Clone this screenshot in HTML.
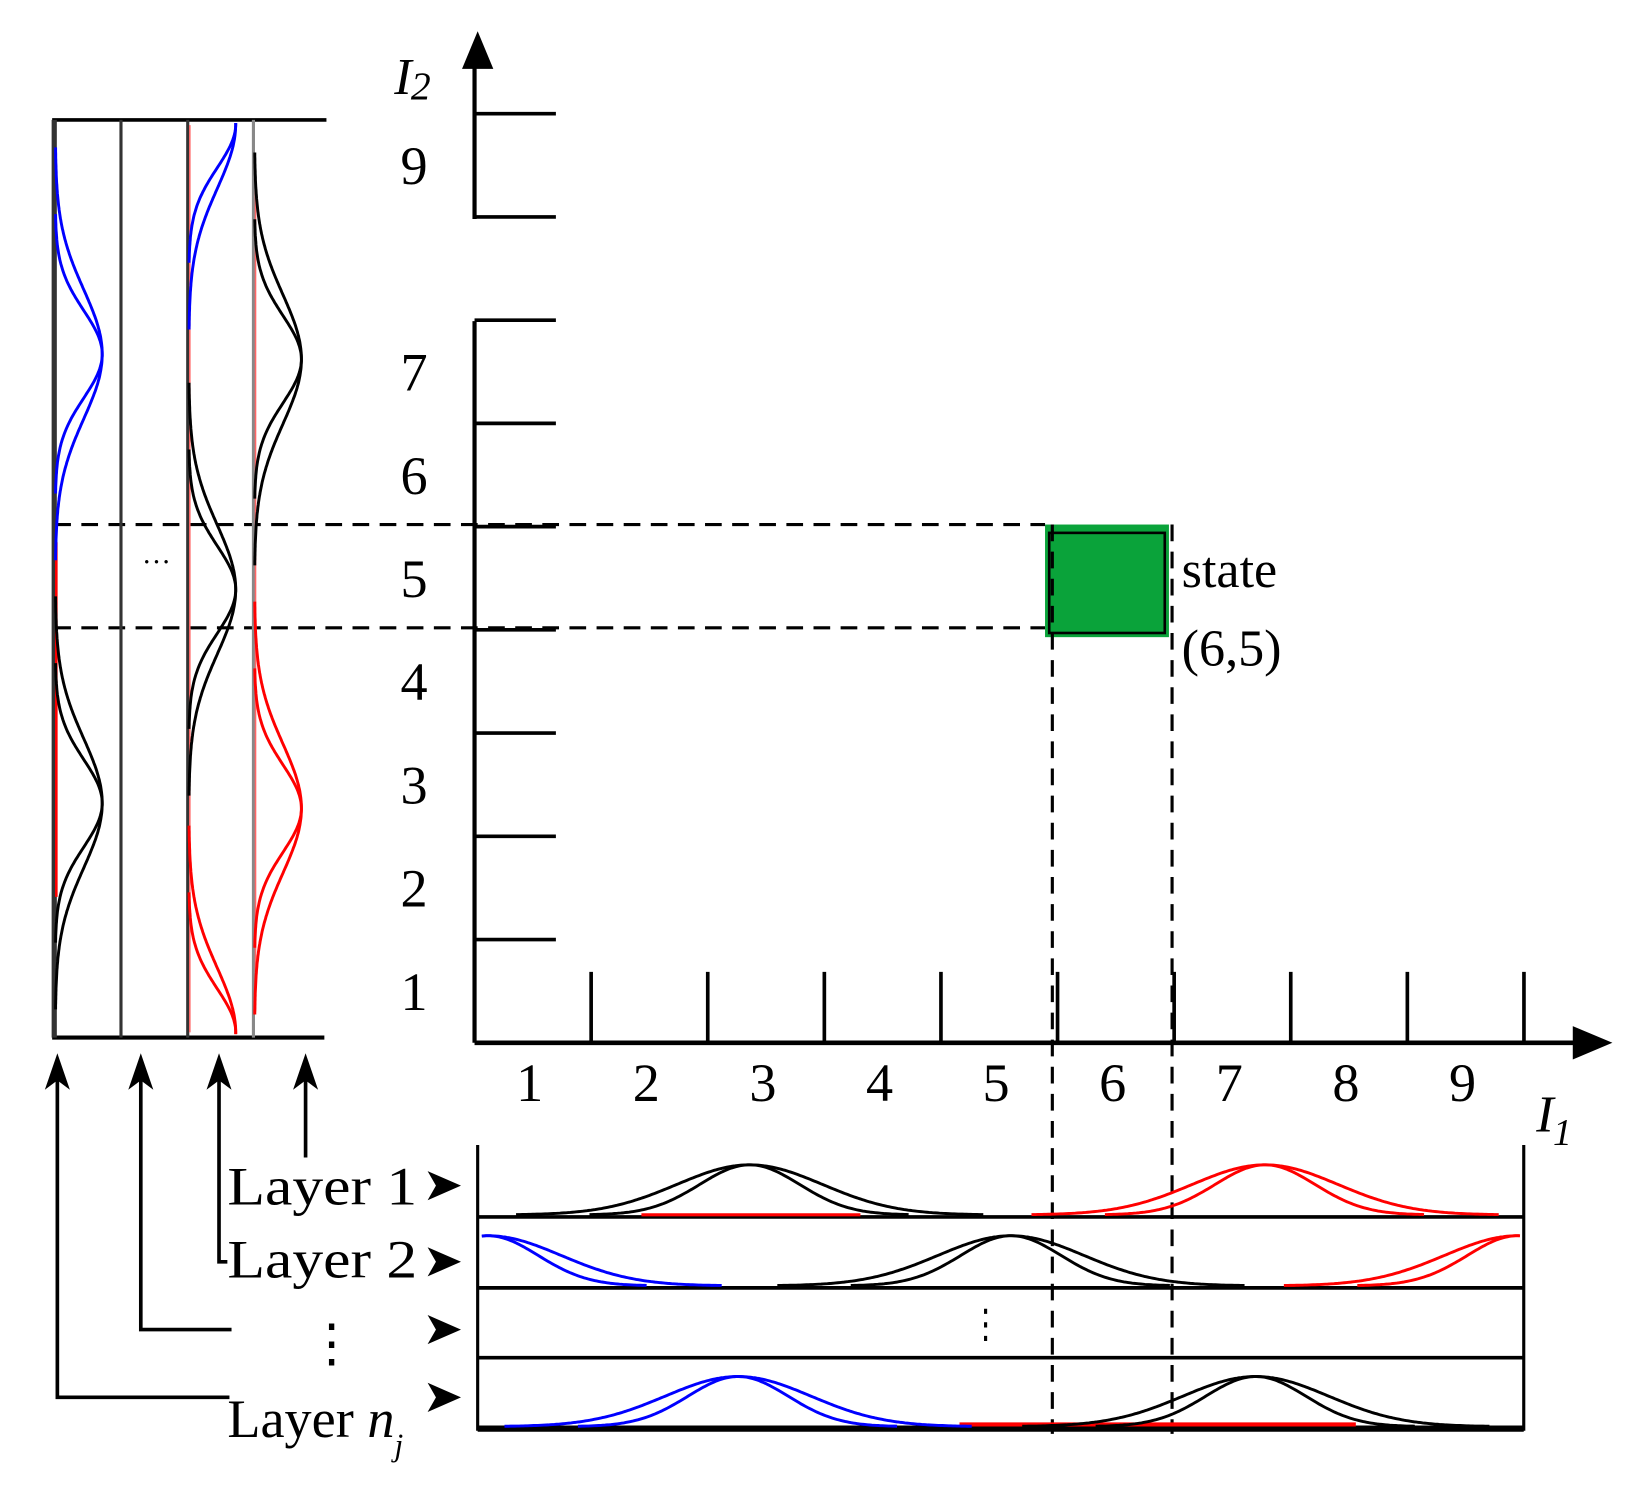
<!DOCTYPE html>
<html><head><meta charset="utf-8"><style>
html,body{margin:0;padding:0;background:#fff;}
svg{display:block;}
text{font-family:"Liberation Serif",serif;fill:#000;}
</style></head><body>
<svg id="c" width="1627" height="1486" viewBox="0 0 1560 1425" preserveAspectRatio="none" xmlns="http://www.w3.org/2000/svg">
<g id="main"></g>
</svg>
<script>
// I1 / I2 tick labels
const xTicks=["1","2","3","4","5","6","7","8","9"];
const yTicks=["1","2","3","4","5","6","7","8","9"];
const stateI1=6, stateI2=5;
// bottom layer rows: bump centers in I1 units, colors
const rowCenters=[[2.86,7.28],[0.6,5.1,9.5],[],[2.76,7.2]];
const rowColors=[["#000","#f00"],["#00f","#000","#f00"],[],["#00f","#000"]];
// left columns: bump centers in I2 units
const colCenters=[[7.17,2.82],[],[9.4,4.89,0.6],[7.12,2.77]];
const colColors=[["#00f","#000"],[],["#00f","#000","#f00"],["#000","#f00"]];

const NS="http://www.w3.org/2000/svg";
const svg=document.getElementById('main');
function el(t,a,name){const e=document.createElementNS(NS,t);for(const k in a)e.setAttribute(k,a[k]);


svg.appendChild(e);return e;}
function line(x1,y1,x2,y2,w,name,extra){return el('line',Object.assign({x1,y1,x2,y2,stroke:'#000','stroke-width':w},extra||{}),name);}
function txt(x,y,s,size,name,extra){const t=el('text',Object.assign({x,y,'font-size':size},extra||{}),name);t.textContent=s;return t;}
const X=v=>455+(v-0.5)*111.8;   // I1 -> px
const Y=v=>1000-(v-0.5)*99;   // I2 -> px

// y axis (broken)
line(455,1000,455,308,4,'y-axis-lower');
line(455,210,455,62,4,'y-axis-upper');
el('polygon',{points:'443,66 458,30 473,66',fill:'#000'},'y-axis-arrow');
txt(378,90,'I',50,'y-axis-title',{'font-style':'italic'});
txt(394,95,'2',38,'y-axis-title-sub',{'font-style':'italic'});
[1.5,2.5,3.5,4.5,5.5,6.5,7.5,8.5,9.5].forEach(v=>{line(455,Y(v),533,Y(v),3.5,'y-tick');});
yTicks.forEach((s,i)=>{if(s==="8")return;txt(397,Y(i+1)+18,s,52,'y-tick-label',{'text-anchor':'middle'});});
// x axis
line(455,1000,1515,1000,4.5,'x-axis');
el('polygon',{points:'1508,984 1546,1000 1508,1016',fill:'#000'},'x-axis-arrow');
[1.5,2.5,3.5,4.5,5.5,6.5,7.5,8.5,9.5].forEach(v=>{line(X(v),932,X(v),1000,3.5,'x-tick');});
xTicks.forEach((s,i)=>{txt(X(i+1)-3,1056,s,52,'x-tick-label',{'text-anchor':'middle'});});
txt(1473,1085,'I',50,'x-axis-title',{'font-style':'italic'});
txt(1489,1098,'1',36,'x-axis-title-sub',{'font-style':'italic'});

// state cell
const sx0=X(stateI1-0.5)-12,sx1=X(stateI1+0.5)-5,sy0=Y(stateI2+0.5)-2,sy1=Y(stateI2-0.5)+7;
el('rect',{x:sx0,y:sy0,width:sx1-sx0,height:sy1-sy0,fill:'#0aa33a'},'state-cell');
el('rect',{x:sx0+4,y:sy0+8,width:sx1-sx0-8,height:sy1-sy0-12,fill:'none',stroke:'#000','stroke-width':2.5},'state-cell-border');
txt(1133,563,'state',50,'state-label');
txt(1133,638,'(6,5)',50,'state-coords');
const dash={'stroke-dasharray':'16,10'};
line(52,sy0,sx0,sy0,3,'dashed-guide-top',dash);
line(52,sy1-9,sx0,sy1-9,3,'dashed-guide-bottom',dash);
line(sx0+7,sy0,sx0+7,1375,3,'dashed-guide-left',dash);
line(sx1+3,sy0,sx1+3,1375,3,'dashed-guide-right',dash);

// left panel
line(50,115,313,115,3.5,'left-panel-top');
line(50,995,311,995,4,'left-panel-bottom');
const colX=[52,116,180,243];
colX.forEach((x,i)=>line(x,115,x,995,i==0?5:3,'left-column-'+(i+1),{stroke:i==3?'#888':'#333'}));
txt(150,548,'···',28,'left-ellipsis',{'text-anchor':'middle'});
el('line',{x1:54,y1:520,x2:54,y2:860,stroke:'#f00','stroke-width':2.5},'red-baseline');
el('line',{x1:182,y1:120,x2:182,y2:990,stroke:'#f66','stroke-width':1.5},'red-baseline');
el('line',{x1:245,y1:180,x2:245,y2:970,stroke:'#f66','stroke-width':1.5},'red-baseline');

function gauss(c,s,A,lo,hi,vertical,base,color,name){
  let d='';const a0=Math.max(lo,c-3.2*s),a1=Math.min(hi,c+3.2*s);
  for(let t=a0;t<=a1;t+=2){const g=A*Math.exp(-0.5*((t-c)/s)**2);
    const p=vertical?[base+g,t]:[t,base-g];d+=(d?'L':'M')+p[0].toFixed(1)+','+p[1].toFixed(1);}
  el('path',{d,fill:'none',stroke:color,'stroke-width':2.8},name);
}
colCenters.forEach((cs,i)=>cs.forEach((v,j)=>{
  const c=Y(v);gauss(c,62,45,118,992,true,colX[i]+1,colColors[i][j],'left-curve-outer');
  gauss(c,42,45,118,992,true,colX[i]+1,colColors[i][j],'left-curve-inner');}));

// bottom panels
const rowBase=[1167,1235,1302,1370];
line(458,1098,458,1372,3,'bottom-panel-left');
line(1461,1098,1461,1372,3,'bottom-panel-right');
rowBase.forEach((y,i)=>line(458,y,1461,y,i==3?6:3.5,'layer-row-'+(i+1)+'-baseline'));
el('line',{x1:615,y1:1165,x2:825,y2:1165,stroke:'#f00','stroke-width':3},'red-baseline');
el('line',{x1:920,y1:1366,x2:1300,y2:1366,stroke:'#f00','stroke-width':4},'red-baseline');
rowCenters.forEach((cs,i)=>cs.forEach((v,j)=>{
  let c=X(v);if(v<1)c=468;if(v>9.4)c=1455;
  gauss(c,70,48,462,1458,false,rowBase[i]-2,rowColors[i][j],'layer-curve-outer');
  gauss(c,48,48,462,1458,false,rowBase[i]-2,rowColors[i][j],'layer-curve-inner');}));
line(945,1255,945,1292,3,'layer-vertical-ellipsis',{'stroke-dasharray':'5,8'});

// layer labels and arrows
txt(218,1155,'Layer 1',52,'layer-1-label',{textLength:182,lengthAdjust:'spacingAndGlyphs'});
txt(218,1225,'Layer 2',52,'layer-2-label',{textLength:182,lengthAdjust:'spacingAndGlyphs'});
const tn=txt(218,1378,'Layer ',52,'layer-nj-label');
const ts=document.createElementNS(NS,'tspan');ts.setAttribute('font-style','italic');ts.textContent='n';tn.appendChild(ts);
const tj=document.createElementNS(NS,'tspan');tj.setAttribute('font-style','italic');tj.setAttribute('font-size','30');tj.setAttribute('dy','18');tj.textContent='j';tn.appendChild(tj);
txt(318,1305,'⋮',50,'left-vertical-ellipsis',{'text-anchor':'middle'});
[1137,1210,1275,1340].forEach(y=>el('polygon',{points:`410,${y-14} 442,${y} 410,${y+14} 418,${y}`,fill:'#000'},'layer-arrow'));
const conn=[[55,1340,220],[135,1275,222],[210,1210,218],[293,1110,293]];
conn.forEach(([x,yb,xe])=>{
  el('polyline',{points:`${x},1020 ${x},${yb} ${xe},${yb}`,fill:'none',stroke:'#000','stroke-width':3.5},'connector-line');
  el('polygon',{points:`${x-12},1045 ${x},1010 ${x+12},1045 ${x},1036`,fill:'#000'},'connector-arrowhead');
});
</script>
</body></html>
